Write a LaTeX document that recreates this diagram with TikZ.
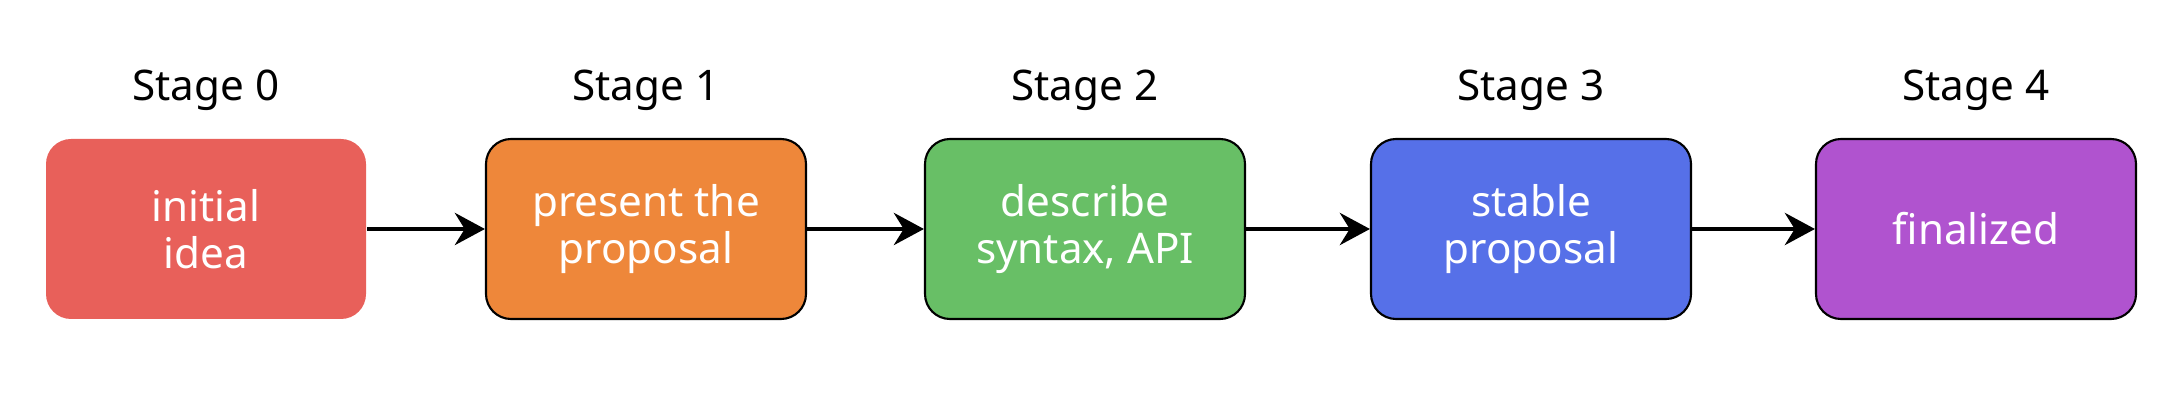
\documentclass[tikz,border=0pt]{standalone}
\usepackage{fontspec}
\setmainfont{Noto Sans}
\usetikzlibrary{arrows.meta,positioning}

\definecolor{st0}{HTML}{E8605A}
\definecolor{st1}{HTML}{EE873A}
\definecolor{st2}{HTML}{68BF66}
\definecolor{st3}{HTML}{5670E8}
\definecolor{st4}{HTML}{B053CF}

\begin{document}
\begin{tikzpicture}[
    every node/.style={font=\fontsize{12}{13.2}\selectfont},
    stagebox/.style={rounded corners=0.25cm, minimum width=3.2cm, minimum height=1.8cm,
                     align=center, text=white, line width=0.6pt},
    stagelabel/.style={text=black},
    flow/.style={-{Stealth[length=0.3cm, width=0.32cm]}, line width=1.4pt}
  ]
    \useasboundingbox (0,0) rectangle (21.82,4.10);

    \node[stagebox, fill=st0] (s0) at (2.06,1.81) {initial\\idea};
    \node[stagebox, fill=st1, draw=black] (s1) at (6.46,1.81) {present the\\proposal};
    \node[stagebox, fill=st2, draw=black] (s2) at (10.85,1.81) {describe\\syntax, API};
    \node[stagebox, fill=st3, draw=black] (s3) at (15.31,1.81) {stable\\proposal};
    \node[stagebox, fill=st4, draw=black] (s4) at (19.76,1.81) {finalized};

    \node[stagelabel] (l0) at (2.06,3.20) {Stage 0};
    \node[stagelabel] (l1) at (6.46,3.20) {Stage 1};
    \node[stagelabel] (l2) at (10.85,3.20) {Stage 2};
    \node[stagelabel] (l3) at (15.31,3.20) {Stage 3};
    \node[stagelabel] (l4) at (19.76,3.20) {Stage 4};

    \draw[flow] (s0) -- (s1);
    \draw[flow] (s1) -- (s2);
    \draw[flow] (s2) -- (s3);
    \draw[flow] (s3) -- (s4);
\end{tikzpicture}
\end{document}
